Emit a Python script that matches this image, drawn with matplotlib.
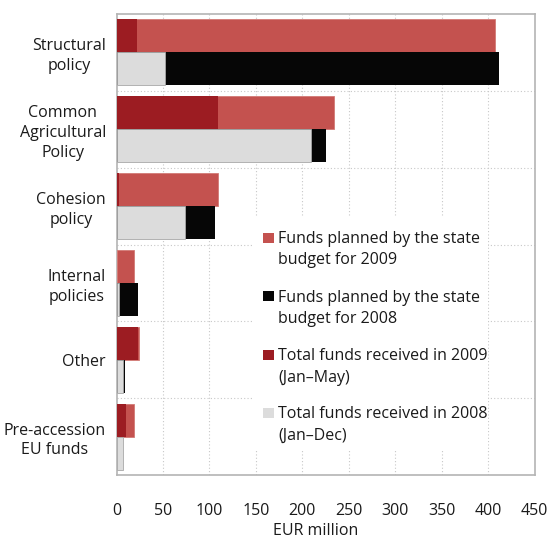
import matplotlib
matplotlib.use("Agg")
import matplotlib.pyplot as plt
from matplotlib.patches import Rectangle
import numpy as np

plt.rcParams['font.family'] = ['Open Sans', 'DejaVu Sans']

categories = ["Structural\npolicy", "Common\nAgricultural\nPolicy", "Cohesion\npolicy",
              "Internal\npolicies", "Other", "Pre-accession\nEU funds"]
planned_2009 = [408, 234, 109, 19, 24, 19]
received_2009 = [22, 109, 3, 1, 23, 10]
planned_2008 = [412, 225, 106, 23, 9, 0]
received_2008 = [52, 209, 74, 3, 7, 7]
x_ticks = [0, 50, 100, 150, 200, 250, 300, 350, 400, 450]

legend_labels = [
    "Funds planned by the state\nbudget for 2009",
    "Funds planned by the state\nbudget for 2008",
    "Total funds received in 2009\n(Jan\u2013May)",
    "Total funds received in 2008\n(Jan\u2013Dec)",
]

c_plan09 = "#c4524f"
c_rec09 = "#9c1c22"
c_plan08 = "#060606"
c_rec08 = "#dcdcdc"
grid_c = "#c8c8c8"
frame_c = "#b4b4b4"
text_c = "#1a1a1a"

W, H = 549, 539
fig = plt.figure(figsize=(W / 100, H / 100), dpi=100)
ax = fig.add_axes([116.5 / W, 1 - 475 / H, (534.5 - 116.5) / W, (475 - 14) / H])

y = np.arange(len(categories))
bh = 0.43
y_top = y - bh / 2
y_bot = y + bh / 2

ax.barh(y_top, planned_2009, height=bh, color=c_plan09, edgecolor="#d27a76", linewidth=0.6, zorder=3)
ax.barh(y_top, received_2009, height=bh, color=c_rec09, linewidth=0, zorder=4)
ax.barh(y_bot, planned_2008, height=bh, color=c_plan08, linewidth=0, zorder=3)
ax.barh(y_bot, received_2008, height=bh, color=c_rec08, edgecolor="#a8a8a8", linewidth=0.6, zorder=4)

ax.set_xlim(0, 450)
ax.set_ylim(len(categories) - 0.5, -0.5)
ax.set_xticks(x_ticks)
ax.set_xticklabels([str(v) for v in x_ticks], fontsize=11.5, color=text_c)
ax.set_yticks(y)
ax.set_yticklabels(categories, fontsize=11.5, color=text_c, linespacing=1.32)
for lab in ax.get_yticklabels():
    lab.set_ha("right")
    lab.set_multialignment("center")
ax.tick_params(axis="y", length=0, pad=7.5)
ax.tick_params(axis="x", length=0, pad=20)

# dotted grid: vertical at each tick, horizontal between category groups
for xv in x_ticks[1:-1]:
    ax.axvline(xv, color=grid_c, linestyle=(0, (1, 2)), linewidth=0.8, zorder=1)
for yv in np.arange(0.5, len(categories) - 0.5, 1.0):
    ax.axhline(yv, color=grid_c, linestyle=(0, (1, 2)), linewidth=0.8, zorder=1)

for s in ax.spines.values():
    s.set_color(frame_c)
    s.set_linewidth(1.2)

ax.set_xlabel("EUR million", fontsize=11.5, color=text_c)
ax.xaxis.set_label_coords(0.477, -0.104)
ax.xaxis.label.set_va("top")

# legend panel drawn on a white box
def fx(px):
    return px / W

def fy(py):
    return 1 - py / H

fig.patches.append(Rectangle((fx(253), fy(449)), fx(488) - fx(253), fy(217) - fy(449),
                             transform=fig.transFigure, facecolor="white", edgecolor="none", zorder=5))
legend_colors = [c_plan09, c_plan08, c_rec09, c_rec08]
for i, (lab, col) in enumerate(zip(legend_labels, legend_colors)):
    top = 232.5 + i * 58.5
    fig.patches.append(Rectangle((fx(263), fy(top + 10)), fx(11), 10 / H,
                                 transform=fig.transFigure, facecolor=col, edgecolor="none", zorder=6))
    for j, line in enumerate(lab.split("\n")):
        fig.text(fx(278), fy(243 + i * 58.5 + j * 21.5), line, fontsize=11.5,
                 color=text_c, ha="left", va="baseline", zorder=7)

fig.savefig("out.png", dpi=100)
